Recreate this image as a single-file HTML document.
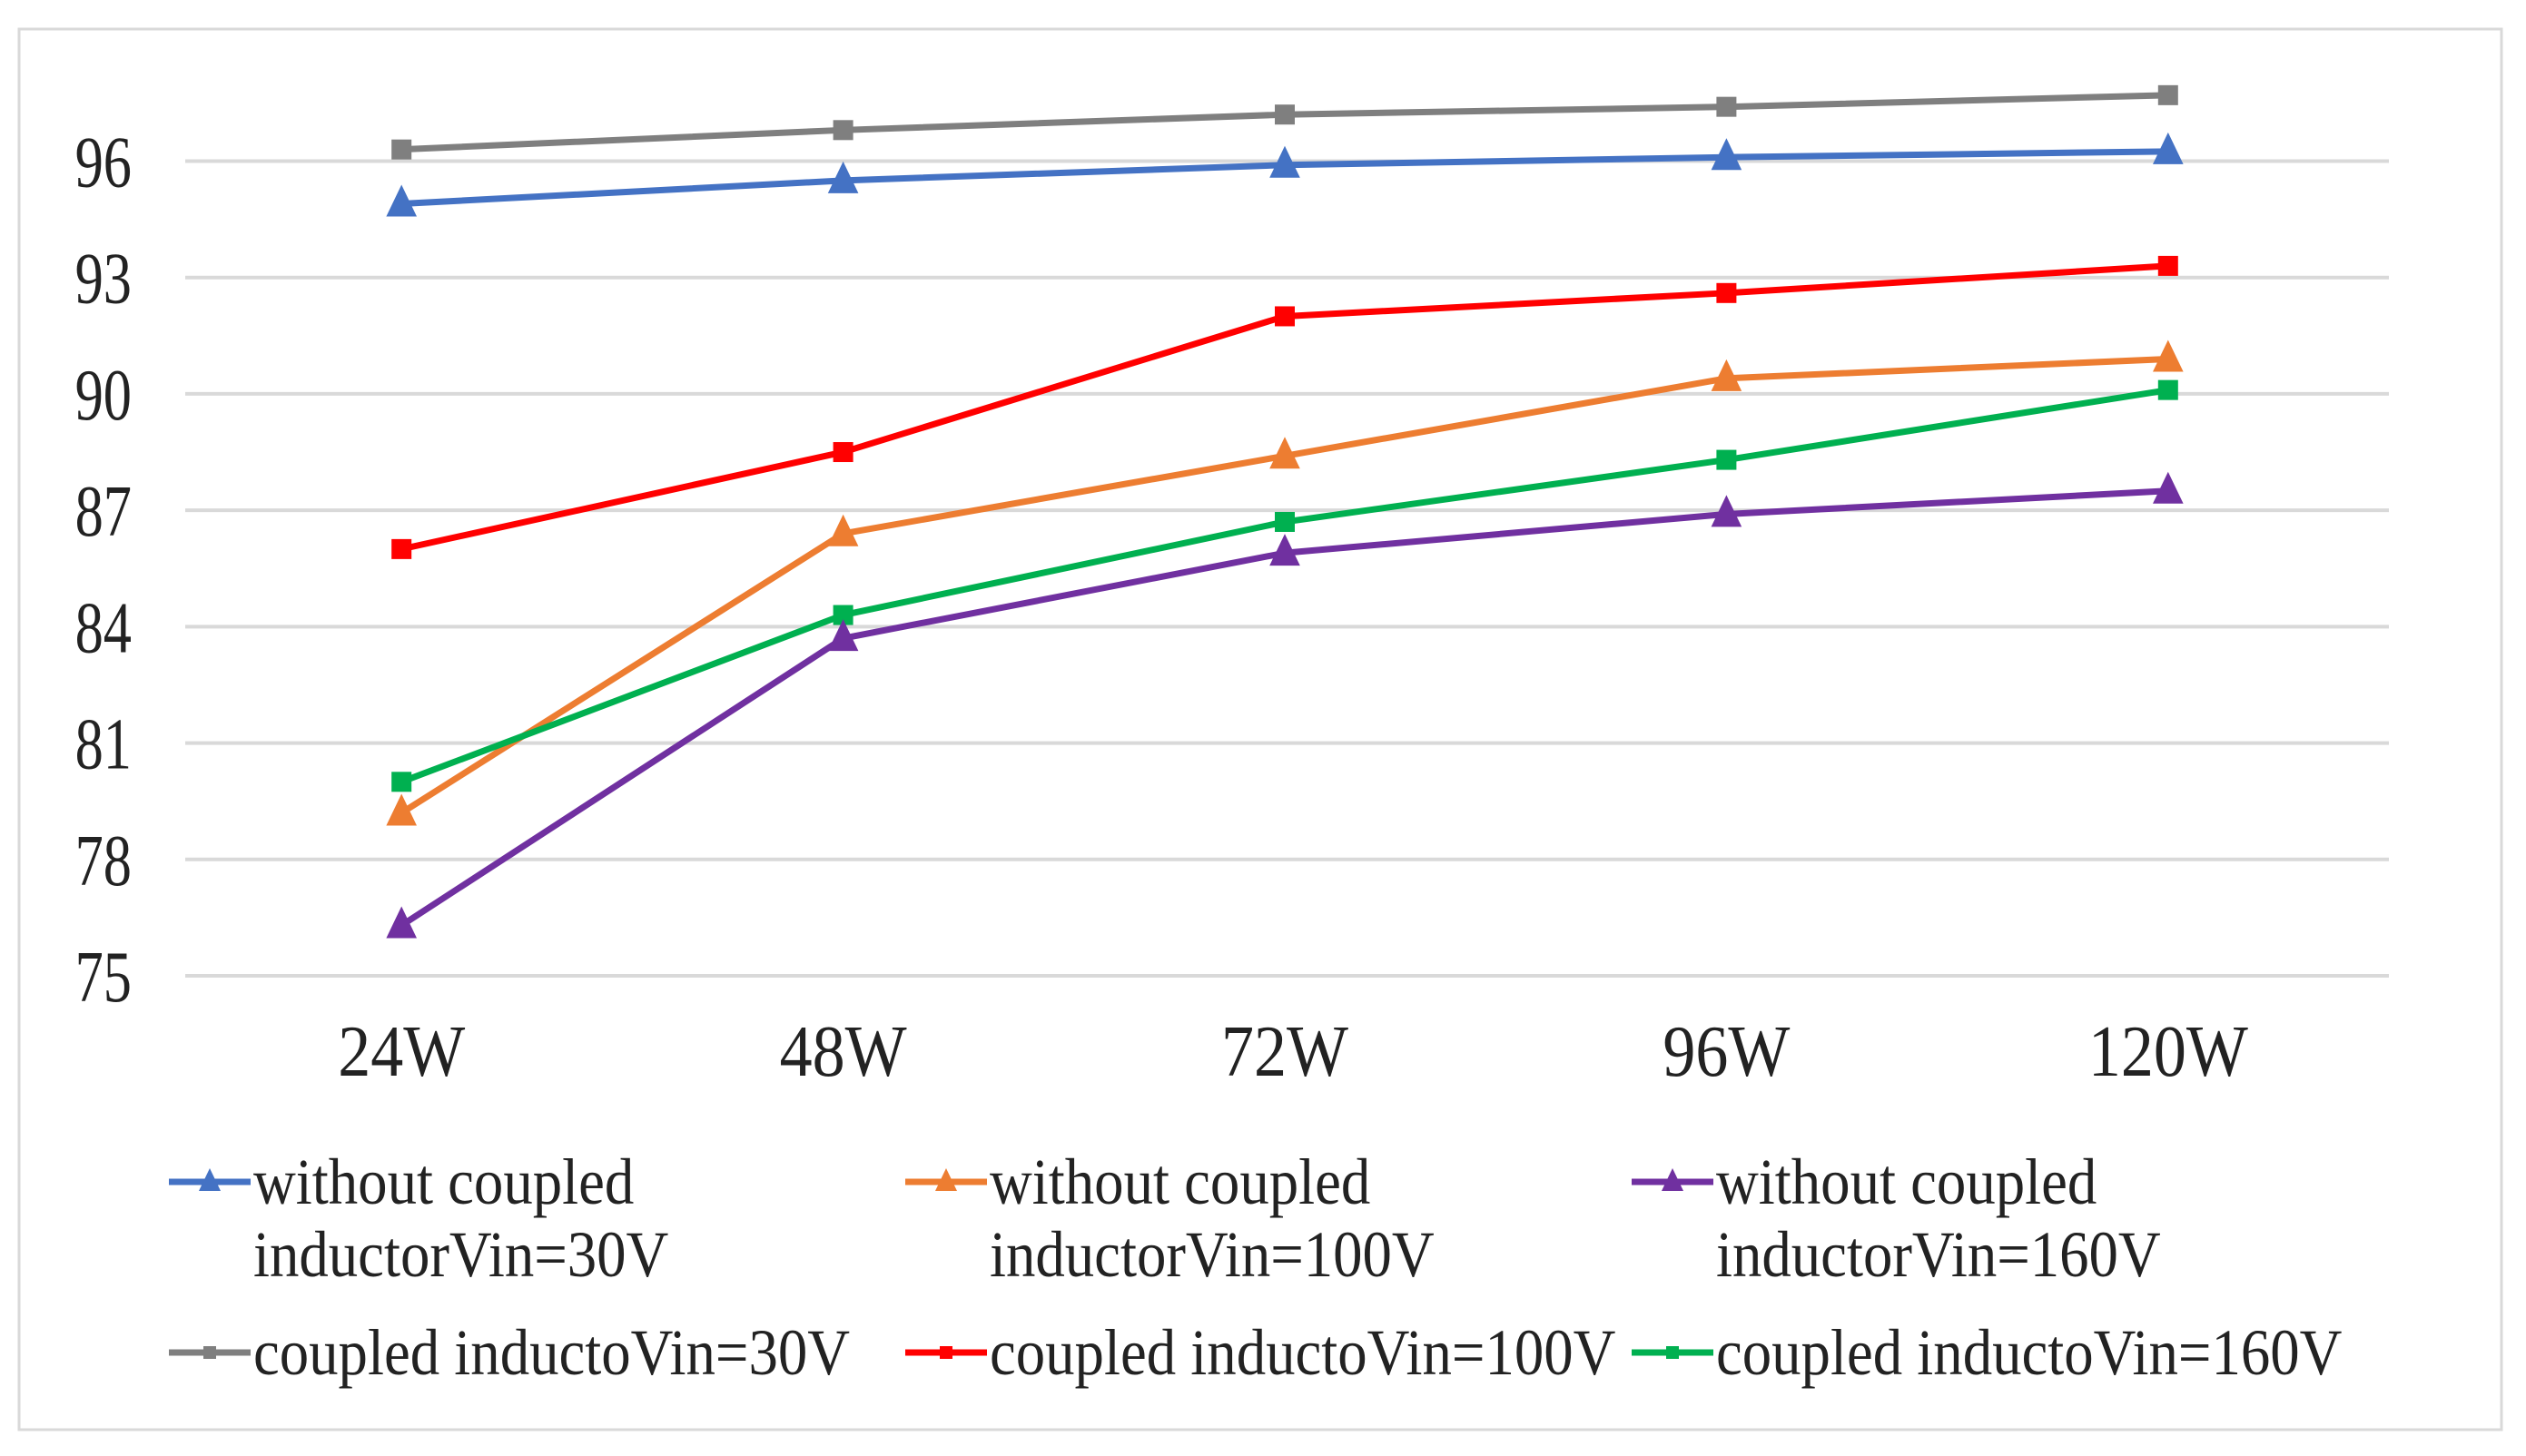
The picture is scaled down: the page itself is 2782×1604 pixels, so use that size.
<!DOCTYPE html>
<html><head><meta charset="utf-8"><style>
html,body{margin:0;padding:0;background:#fff;}
svg{display:block;font-family:"Liberation Serif",serif;}
</style></head><body>
<svg id="chart" width="2782" height="1604" viewBox="0 0 2782 1604" xmlns="http://www.w3.org/2000/svg">
<rect x="21" y="32" width="2734" height="1543" fill="#fff" stroke="#d9d9d9" stroke-width="3"/>
<g id="grid"></g>
<g id="yticks"></g>
<g id="xticks"></g>
<g id="series"></g>
<g id="legend"></g>
</svg>
<script>
const categories = ["24W","48W","72W","96W","120W"];
const yTicks = [75,78,81,84,87,90,93,96];
const seriesNames = [
 ["without coupled","inductorVin=30V"],
 ["without coupled","inductorVin=100V"],
 ["without coupled","inductorVin=160V"],
 ["coupled inductoVin=30V"],
 ["coupled inductoVin=100V"],
 ["coupled inductoVin=160V"]
];
const woc30 = [94.9,95.5,95.9,96.1,96.25];
const woc100 = [79.2,86.4,88.4,90.4,90.9];
const woc160 = [76.3,83.7,85.9,86.9,87.5];
const c30 = [96.3,96.8,97.2,97.4,97.7];
const c100 = [86.0,88.5,92.0,92.6,93.3];
const c160 = [80.0,84.3,86.7,88.3,90.1];

const NS="http://www.w3.org/2000/svg";
const plotL=199, plotR=2631, yTop=177.5, yBot=1075, vTop=96, vBot=75;
const band=(plotR-plotL)/categories.length;
function xPos(i){return plotL+band*(i+0.5);}
function yPos(v){return yBot-(v-vBot)*(yBot-yTop)/(vTop-vBot);}
function mk(tag,attrs,parent){const e=document.createElementNS(NS,tag);for(const k in attrs)e.setAttribute(k,attrs[k]);parent.appendChild(e);return e;}

const grid=document.getElementById('grid');
const yt=document.getElementById('yticks');
yTicks.forEach(v=>{
 const l=mk('line',{x1:plotL+5,x2:plotR,y1:yPos(v),y2:yPos(v),stroke:'#d9d9d9','stroke-width':4},grid);
 
 
 const t=mk('text',{x:0,y:0,'text-anchor':'end','font-size':80,fill:'#222',transform:`translate(145,${yPos(v)+28}) scale(0.78,1)`},yt);
 t.textContent=v;
 
 
});
const xt=document.getElementById('xticks');
categories.forEach((c,i)=>{
 const t=mk('text',{x:0,y:0,'text-anchor':'middle','font-size':80,fill:'#222',transform:`translate(${xPos(i)},1185) scale(0.9,1)`},xt);
 t.textContent=c;
 
 
});

const seriesData=[woc30,woc100,woc160,c30,c100,c160];
const colors=['#4472C4','#ED7D31','#7030A0','#7F7F7F','#FF0000','#00B050'];
const markers=['tri','tri','tri','sq','sq','sq'];
function marker(type,x,y,color,parent,s){
 if(type==='tri'){return mk('polygon',{points:`${x},${y-s*0.75} ${x-s*0.6},${y+s*0.5} ${x+s*0.6},${y+s*0.5}`,fill:color},parent);}
 return mk('rect',{x:x-s/2,y:y-s/2,width:s,height:s,fill:color},parent);
}
const sg=document.getElementById('series');
const order=[3,4,0,1,5,2];
order.forEach(k=>{
 const g=mk('g',{},sg);
 
 
 const pts=seriesData[k].map((v,i)=>xPos(i)+','+yPos(v)).join(' ');
 const pl=mk('polyline',{points:pts,fill:'none',stroke:colors[k],'stroke-width':7,'stroke-linejoin':'round'},g);
 
 
 seriesData[k].forEach((v,i)=>{
  const m=marker(markers[k],xPos(i),yPos(v),colors[k],g,markers[k]==='tri'?28:22);
  
  
 });
});

const lg=document.getElementById('legend');
const colX=[186,997,1797];
const rowY=[1302,1302,1302,1490,1490,1490];
seriesNames.forEach((nm,k)=>{
 const x=colX[k%3], y=rowY[k];
 const g=mk('g',{},lg);
 
 
 mk('line',{x1:x,x2:x+90,y1:y,y2:y,stroke:colors[k],'stroke-width':7},g);
 marker(markers[k],x+45,y,colors[k],g,markers[k]==='tri'?20:14);
 nm.forEach((line,j)=>{
  const t=mk('text',{x:0,y:0,'font-size':72,fill:'#222',transform:`translate(${x+93},${y+24+j*80}) scale(0.9,1)`},g);
  t.textContent=line;
 });
});
</script>
</body></html>
